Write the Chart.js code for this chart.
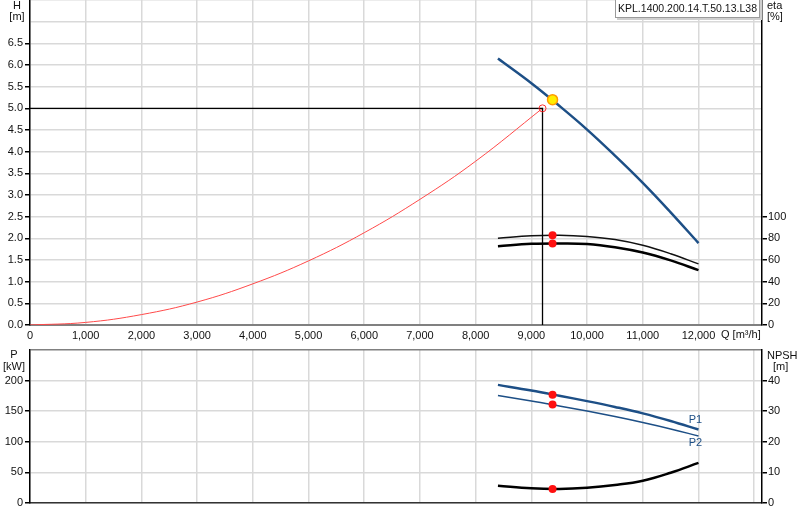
<!DOCTYPE html>
<html><head><meta charset="utf-8">
<script src="https://cdn.jsdelivr.net/npm/chart.js@4.4.0/dist/chart.umd.min.js"></script>
<style>
html,body{margin:0;padding:0;background:#fff;width:800px;height:520px;overflow:hidden;position:relative;}
canvas{position:absolute;left:0;}
#top{top:-10px;}
#bot{top:340px;}
</style></head><body>
<canvas id="top" width="800" height="355"></canvas>
<canvas id="bot" width="800" height="180"></canvas>
<script>
// ---- data ----
const modelName = 'KPL.1400.200.14.T.50.13.L38';
const xTicks = [0,1000,2000,3000,4000,5000,6000,7000,8000,9000,10000,11000,12000,13000];
const hTicks = [0,0.5,1,1.5,2,2.5,3,3.5,4,4.5,5,5.5,6,6.5,7,7.5];
const etaTicks = [0,20,40,60,80,100,120,140,160,180,200,220,240,260,280,300];
const pTicks = [0,50,100,150,200,250];
const npshTicks = [0,10,20,30,40,50];

const qPump = [8400,9000,9500,10000,10500,11000,11500,12000];
const headPump = [6.15,5.58,5.06,4.51,3.91,3.28,2.60,1.89];
const etaUpper = [80,82.3,82.8,81.7,78.9,73.6,65.8,56.4];
const etaLower = [72.7,74.9,75.3,74.8,71.8,66.9,59.6,50.6];
const powerP1 = [193,183.8,175.3,166.5,157,146.5,134,120];
const powerP2 = [175.5,166.6,158.5,150.2,141.2,131.5,121,109.5];
const npshReq = [5.6,4.8,4.6,5.0,5.9,7.3,9.9,13.1];

const qSys = [0,1000,2000,3000,4000,5000,6000,7000,8000,9200];
const headSys = [0,0.06,0.24,0.53,0.95,1.48,2.13,2.9,3.78,5.0];

const dutyQ = 9380, dutyH = 5.2, dutyEtaU = 82.8, dutyEtaL = 75.2;
const dutyP1 = 177, dutyP2 = 161, dutyNpsh = 4.6;
const reqQ = 9200, reqH = 5.0;

// ---- helpers ----
const zip = (xs, ys) => xs.map((x, i) => ({x: x, y: ys[i]}));
const FONT = {family: "'Liberation Sans', Arial, sans-serif", size: 11};
Chart.defaults.font.family = FONT.family;
Chart.defaults.font.size = FONT.size;
Chart.defaults.color = '#111';
const GRID = '#d9d9d9';
const setTicks = arr => s => { s.ticks = arr.map(v => ({value: v})); };
const noPad = (w, h) => s => {
  if (w !== undefined) s.width = w;
  if (h !== undefined) s.height = h;
  s.paddingTop = 0; s.paddingBottom = 0; s.paddingLeft = 0; s.paddingRight = 0;
};
const lineDs = (data, color, width, axis) => ({
  data: data, borderColor: color, borderWidth: width, pointRadius: 0,
  yAxisID: axis, tension: 0.4, fill: false, borderCapStyle: 'butt'
});

function textPlugin(items, extra) {
  return {
    id: 'texts',
    afterDraw(chart) {
      const c = chart.ctx;
      c.save();
      if (extra) extra(chart, c);
      c.textBaseline = 'middle';
      items.forEach(t => {
        c.fillStyle = t.color || '#111';
        c.textAlign = t.align || 'center';
        c.font = (t.size || 11) + "px 'Liberation Sans', Arial, sans-serif";
        c.fillText(t.text, t.x, t.y);
      });
      c.restore();
    }
  };
}

// ---- top chart ----
new Chart(document.getElementById('top'), {
  type: 'line',
  data: {
    datasets: [
      {data: [{x: dutyQ, y: dutyH}], yAxisID: 'h', showLine: false, pointRadius: 5,
       pointBackgroundColor: '#ffee00', pointBorderColor: '#ff9a00', pointBorderWidth: 1.5},
      {data: [{x: reqQ, y: reqH}], yAxisID: 'h', showLine: false, pointRadius: 3.5,
       pointBackgroundColor: 'rgba(0,0,0,0)', pointBorderColor: '#ff3030', pointBorderWidth: 1},
      {data: [{x: dutyQ, y: dutyEtaU}, {x: dutyQ, y: dutyEtaL}], yAxisID: 'eta', showLine: false,
       pointRadius: 4, pointBackgroundColor: '#ff1010', pointBorderColor: '#ff1010', pointBorderWidth: 0},
      lineDs(zip(qPump, headPump), '#1d4f86', 2.5, 'h'),
      {data: [{x: 0, y: reqH}, {x: reqQ, y: reqH}, {x: reqQ, y: 0}], yAxisID: 'h',
       borderColor: '#000', borderWidth: 1.3, pointRadius: 0, tension: 0},
      lineDs(zip(qSys, headSys), '#ff4a4a', 1, 'h'),
      lineDs(zip(qPump, etaUpper), '#111', 1.5, 'eta'),
      lineDs(zip(qPump, etaLower), '#000', 2.5, 'eta')
    ]
  },
  options: {
    responsive: false, animation: false, events: [],
    layout: {padding: {top: 10, left: 0, right: 0, bottom: 0}},
    plugins: {legend: {display: false}, tooltip: {enabled: false}},
    scales: {
      x: {type: 'linear', min: 0, max: 13140, afterBuildTicks: setTicks(xTicks),
          afterFit: noPad(undefined, 20),
          ticks: {autoSkip: false, maxRotation: 0, padding: 4,
                  callback: v => v <= 12000 ? v.toLocaleString('en-US') : ''},
          grid: {color: GRID, lineWidth: 1.5, drawTicks: false},
          border: {color: '#808080', width: 2}},
      h: {type: 'linear', position: 'left', min: 0, max: 7.5, afterBuildTicks: setTicks(hTicks),
          afterFit: noPad(30),
          ticks: {autoSkip: false, padding: 2, callback: v => v <= 6.5 ? v.toFixed(1) : ''},
          grid: {color: GRID, lineWidth: 1.5, tickLength: 5,
                 tickColor: c => (c.tick && c.tick.value <= 6.5) ? '#000' : 'rgba(0,0,0,0)'},
          border: {color: '#000', width: 1.5}},
      eta: {type: 'linear', position: 'right', min: 0, max: 300, afterBuildTicks: setTicks(etaTicks),
          afterFit: noPad(38),
          ticks: {autoSkip: false, padding: 1, callback: v => v <= 100 ? String(v) : ''},
          grid: {drawOnChartArea: false, tickLength: 5, lineWidth: 1.5,
                 tickColor: c => (c.tick && c.tick.value <= 100) ? '#000' : 'rgba(0,0,0,0)'},
          border: {color: '#000', width: 1.5}}
    }
  },
  plugins: [textPlugin([
    {text: 'H', x: 17, y: 16},
    {text: '[m]', x: 17, y: 27},
    {text: 'eta', x: 767, y: 16, align: 'left'},
    {text: '[%]', x: 767, y: 27, align: 'left'},
    {text: 'Q [m³/h]', x: 721, y: 345, align: 'left'},
    {text: modelName, x: 687.5, y: 19, size: 10.5}
  ], (chart, c) => {
    c.fillStyle = '#cfcfcf';
    c.fillRect(617, 10, 145, 20);
    c.fillStyle = '#fff';
    c.fillRect(615, 8, 145, 20);
    c.strokeStyle = '#9a9a9a';
    c.lineWidth = 1;
    c.strokeRect(615.5, 8.5, 144, 19);
  })]
});

// ---- bottom chart ----
new Chart(document.getElementById('bot'), {
  type: 'line',
  data: {
    datasets: [
      {data: [{x: dutyQ, y: dutyP1}, {x: dutyQ, y: dutyP2}], yAxisID: 'p', showLine: false,
       pointRadius: 4, pointBackgroundColor: '#ff1010', pointBorderColor: '#ff1010', pointBorderWidth: 0},
      {data: [{x: dutyQ, y: dutyNpsh}], yAxisID: 'npsh', showLine: false,
       pointRadius: 4, pointBackgroundColor: '#ff1010', pointBorderColor: '#ff1010', pointBorderWidth: 0},
      lineDs(zip(qPump, powerP1), '#1d4f86', 2.5, 'p'),
      lineDs(zip(qPump, powerP2), '#1d4f86', 1.5, 'p'),
      lineDs(zip(qPump, npshReq), '#000', 2.5, 'npsh')
    ]
  },
  options: {
    responsive: false, animation: false, events: [],
    layout: {padding: {top: 10, left: 0, right: 0, bottom: 0}},
    plugins: {legend: {display: false}, tooltip: {enabled: false}},
    scales: {
      x: {type: 'linear', min: 0, max: 13140, afterBuildTicks: setTicks(xTicks),
          afterFit: noPad(undefined, 17),
          ticks: {display: false},
          grid: {color: GRID, lineWidth: 1.5, drawTicks: false},
          border: {color: '#333', width: 1.5}},
      p: {type: 'linear', position: 'left', min: 0, max: 250, afterBuildTicks: setTicks(pTicks),
          afterFit: noPad(30),
          ticks: {autoSkip: false, padding: 2, callback: v => v <= 200 ? String(v) : ''},
          grid: {color: c => (c.tick && c.tick.value === 250) ? '#808080' : GRID, lineWidth: 1.5, tickLength: 5,
                 tickColor: c => (c.tick && c.tick.value <= 200) ? '#000' : 'rgba(0,0,0,0)'},
          border: {color: '#000', width: 1.5}},
      npsh: {type: 'linear', position: 'right', min: 0, max: 50, afterBuildTicks: setTicks(npshTicks),
          afterFit: noPad(38),
          ticks: {autoSkip: false, padding: 1, callback: v => v <= 40 ? String(v) : ''},
          grid: {drawOnChartArea: false, tickLength: 5, lineWidth: 1.5,
                 tickColor: c => (c.tick && c.tick.value <= 40) ? '#000' : 'rgba(0,0,0,0)'},
          border: {color: '#000', width: 1.5}}
    }
  },
  plugins: [textPlugin([
    {text: 'P', x: 14, y: 15},
    {text: '[kW]', x: 14, y: 27},
    {text: 'NPSH', x: 767, y: 16, align: 'left'},
    {text: '[m]', x: 773, y: 27, align: 'left'}
  ], (chart, c) => {
    const xs = chart.scales.x, ys = chart.scales.p;
    const xe = xs.getPixelForValue(qPump[qPump.length - 1]);
    c.font = "11px 'Liberation Sans', Arial, sans-serif";
    c.textBaseline = 'middle';
    c.textAlign = 'center';
    c.fillStyle = '#1d4f86';
    c.fillText('P1', xe - 3, ys.getPixelForValue(powerP1[powerP1.length - 1]) - 10);
    c.fillText('P2', xe - 3, ys.getPixelForValue(powerP2[powerP2.length - 1]) + 7);
  })]
});
</script>
</body></html>
